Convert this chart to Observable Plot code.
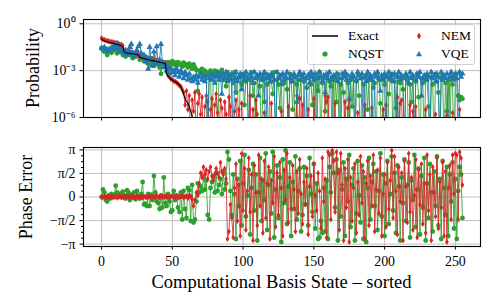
<!DOCTYPE html>
<html><head><meta charset="utf-8">
<script src="https://cdn.jsdelivr.net/npm/d3@7"></script>
<script src="https://cdn.jsdelivr.net/npm/@observablehq/plot@0.6"></script>
<style>
body{margin:0;background:#fff;}
#chart{position:relative;width:499px;height:308px;font-family:"Liberation Serif",serif;}
#chart svg.plot{position:absolute;left:0;}
#legend{position:absolute;left:307px;top:24px;width:166px;height:39px;border:1px solid #cfcfcf;border-radius:3px;background:rgba(255,255,255,0.8);font-size:13.5px;}
#legend svg{position:absolute;}
#legend span{position:absolute;line-height:16px;color:#000;}
.axlabel{position:absolute;white-space:nowrap;font-size:18px;line-height:1;color:#000;}
#warn{position:absolute;left:0;top:0;color:red;font-size:10px;}
</style></head><body><div id="chart"></div>
<script>
// ---------- data ----------
const seriesNames = ["Exact", "NQST", "NEM", "VQE"];
const xTicks = [0, 50, 100, 150, 200, 250];
const probTicks = [1, 1e-3, 1e-6];
const probTickLabels = ["10\u2070", "10\u207B\u00B3", "10\u207B\u2076"];
const phaseTicks = [Math.PI, Math.PI / 2, 0, -Math.PI / 2, -Math.PI];
const phaseTickLabels = ["\u03C0", "\u03C0/2", "0", "\u2212\u03C0/2", "\u2212\u03C0"];
const axisLabels = {top: "Probability", bottom: "Phase Error", x: "Computational Basis State \u2013 sorted"};

// probabilities (values below 1e-6 fall under the panel)
const exactProb = [0.105,0.09,0.08,0.076,0.071,0.066,0.063,0.06,0.056,0.054,
0.05,0.048,0.045,0.042,0.038,0.035,0.016,0.014,0.0135,0.013,
0.0126,0.0123,0.0117,0.0115,0.0112,0.0107,0.01,0.0071,0.0066,0.0063,
0.006,0.0056,0.0052,0.005,0.0048,0.0046,0.0044,0.0042,0.004,0.0038,
0.0036,0.0035,0.0033,0.0032,0.003,0.0028,6.3e-4,4.5e-4,3.5e-4,2.8e-4,
2.5e-4,2.2e-4,2e-4,1.8e-4,1.5e-4,1.26e-4,9e-5,5.6e-5,3.2e-5,1.6e-5,
1.1e-5,8e-6,5e-6,2.5e-6,1.3e-6,5e-7];

const nqstProb = [0.028,0.02,0.016,0.025,0.01,0.018,0.025,0.014,0.032,0.02,
0.022,0.013,0.028,0.016,0.02,0.01,0.014,0.008,0.013,0.018,
0.01,0.014,0.0063,0.011,0.008,0.016,0.009,0.005,0.01,0.0063,
0.004,0.008,0.0032,0.005,0.0025,0.0063,0.0035,0.002,0.0045,0.0032,
0.0025,0.0016,6.3e-4,0.0028,0.002,0.0032,0.0025,0.0035,0.002,0.0032,
0.004,0.0025,0.0032,0.002,0.0035,0.0025,0.0028,0.0018,0.0032,0.0022,
0.0025,0.0016,0.0028,0.002,0.0013,0.0025,0.0016,0.0011,5e-5,0.001,
8e-4,0.0013,6.3e-4,0.001,5e-4,1e-8,8e-4,0.001,1e-8,6.3e-4,
0.001,5e-4,1e-8,8e-4,4e-4,0.0011,2.5e-4,6.3e-4,1e-4,8e-4,
3.2e-4,1e-8,5e-4,1.6e-4,8e-4,4e-5,2.5e-4,1e-8,4e-4,1.3e-4,
6.3e-4,6.3e-6,2e-4,4e-4,1e-8,2.5e-4,8e-4,2.5e-5,1.6e-4,1e-8,
3.2e-4,5e-4,1e-4,1e-8,2.5e-4,1e-5,6.3e-4,1.3e-4,1e-8,4e-4,
2e-4,3.2e-5,8e-4,1e-8,2.5e-4,1.3e-4,4e-6,5e-4,1e-8,1.6e-4,
3.2e-4,6.3e-5,1e-8,6.3e-4,2e-4,3.2e-6,4e-4,1e-8,1.3e-4,2.5e-4,
1.6e-5,5e-4,1e-8,2e-4,3.2e-4,8e-5,1e-8,6.3e-4,1.3e-4,6.3e-6,
2.5e-4,1e-8,4e-4,5e-5,8e-4,1e-8,1.6e-4,3.2e-4,2.5e-6,5e-4,
1e-8,2e-4,1e-4,4e-4,1e-8,2.5e-4,1e-5,6.3e-4,1e-8,1.3e-4,
3.2e-4,4e-5,1e-8,5e-4,1.6e-4,1e-8,2.5e-4,5e-6,4e-4,1e-8,
2e-4,6.3e-4,2.5e-5,1e-8,3.2e-4,1.3e-4,1e-8,5e-4,3.2e-6,2.5e-4,
1e-8,4e-4,8e-5,1.6e-4,1e-8,6.3e-4,2.5e-4,8e-6,1e-8,3.2e-4,
1.3e-4,5e-4,1e-8,3.2e-5,2.5e-4,6.3e-4,1e-8,2e-4,4e-6,4e-4,
1e-8,1.6e-4,3.2e-4,6.3e-5,1e-8,5e-4,2.5e-4,1e-8,1.3e-4,1e-5,
4e-4,1e-8,2e-4,6.3e-4,2e-5,1e-8,3.2e-4,1.6e-4,1e-8,5e-4,
2.5e-4,5e-6,1e-8,4e-4,1.3e-4,1e-8,6.3e-4,2e-4,4e-5,1e-8,
3.2e-4,5e-4,1e-8,1.6e-4,2.5e-6,2.5e-4,1e-8,4e-4,1.3e-4,1e-8,
3.2e-4,6.3e-4,2.5e-5,1.3e-5,2e-5,1.6e-5];

const nemProb = [0.12,0.1,0.095,0.085,0.082,0.075,0.072,0.068,0.066,0.06,
0.058,0.054,0.052,0.048,0.045,0.04,0.02,0.018,0.016,0.0155,
0.015,0.014,0.0135,0.013,0.0128,0.012,0.0115,0.0085,0.008,0.0075,
0.007,0.0065,0.006,0.0058,0.0055,0.0053,0.005,0.0048,0.0046,0.0044,
0.0042,0.004,0.0038,0.0036,0.0034,0.0031,8e-4,5e-4,3.8e-4,3e-4,
2.6e-4,2.2e-4,2e-4,1.7e-4,1.4e-4,1.1e-4,1e-4,6.3e-5,4e-5,6.3e-6,
5e-5,3.2e-6,2.5e-5,1e-8,1.3e-5,2.5e-6,4e-5,1e-8,8e-6,3.2e-5,
1.6e-6,2e-5,1e-8,5e-6,2.5e-5,1e-5,1e-8,3.2e-6,1.6e-5,1e-8,
6.3e-6,3.2e-5,2e-6,1e-8,1.3e-5,4e-6,1e-8,1e-5,1.6e-6,1e-8,
2e-5,5e-6,1e-8,1e-8,2.5e-6,1.3e-5,1e-8,3.2e-6,1e-8,8e-6,
1e-8,1e-8,1e-8,1e-8,1e-8,2.5e-5,1e-8,3.2e-6,1e-8,1.3e-5,
1.6e-6,1e-8,1e-8,1e-8,1e-8,2e-6,1e-8,1e-8,1e-8,1e-8,
8e-6,1e-8,1e-8,1e-8,1e-8,1e-8,1e-8,2.5e-6,1e-8,1e-8,
1e-8,1e-8,5e-6,1e-8,1e-8,1e-8,1e-8,1e-8,2.5e-5,1e-8,
1.6e-5,1e-8,6.3e-6,1e-8,1e-8,1e-8,3.2e-6,1e-8,1e-8,1e-8,
1.6e-5,1e-8,1e-8,1e-8,1e-8,1e-8,1e-8,1e-8,2.5e-5,1e-5,
2e-5,1e-8,1e-8,1e-8,1e-8,8e-6,1e-8,1e-8,1e-8,1e-8,
1e-8,1e-8,1e-5,1e-8,4e-6,1.3e-5,1e-8,1e-8,1e-8,1e-8,
1e-8,2e-6,1e-8,1e-8,1e-8,1e-8,6.3e-6,1e-8,1e-8,1e-8,
1e-8,4e-6,1e-8,1e-8,1e-8,1e-8,1e-8,1e-8,1e-8,3.2e-6,
1e-8,6.3e-6,1e-8,1e-8,1e-8,1e-8,1e-8,1e-8,1e-8,2e-5,
1e-8,8e-6,1.3e-5,1e-8,1e-8,1e-8,1e-8,1e-8,6.3e-6,1e-8,
2.5e-6,1e-8,5e-6,1e-8,1e-8,1e-8,1e-8,1e-8,1e-8,3.2e-6,
1e-8,1e-8,1e-8,1e-8,1e-8,1e-8,1.6e-6,1e-8,1e-8,1e-8,
1e-8,1e-8,1e-8,1e-8,1.3e-6,1e-8,1e-8,1e-8,2e-6,1e-8,
1e-8,1e-8,1e-8,3.2e-6,1e-8,1e-8];

const vqeProb = [0.028,0.025,0.032,0.02,0.022,0.016,0.025,0.02,0.032,0.025,
0.04,0.056,0.028,0.016,0.025,0.018,0.013,0.02,0.01,0.016,
0.032,0.05,0.013,0.008,0.014,0.02,0.035,0.05,0.013,0.0063,
0.01,0.004,0.0063,0.0013,0.032,0.005,0.002,0.016,0.0032,0.035,
0.0025,0.005,0.05,0.0032,0.0016,0.0025,0.001,0.0016,6.3e-4,0.0013,
8e-4,0.001,5e-4,0.0013,8e-4,4e-4,0.001,6.3e-4,3.2e-4,8e-4,
5e-4,2.5e-4,6.3e-4,3.2e-4,2e-4,4e-4,2.5e-4,5e-4,1.6e-4,4e-4,
6.3e-4,2.5e-4,4e-4,2e-4,5e-4,1e-8,3.2e-4,6.3e-4,2.5e-4,5e-4,
1.6e-4,4e-4,8e-4,2.5e-4,5e-4,3.2e-5,6.3e-4,3.2e-4,8e-4,2e-4,
5e-4,2.5e-4,6.3e-4,1e-8,3.2e-4,8e-4,2e-4,4e-4,6.3e-4,6.3e-5,
5e-4,2.5e-4,8e-4,3.2e-4,1e-8,6.3e-4,4e-4,1.6e-4,8e-4,3.2e-4,
5e-4,2.5e-5,6.3e-4,2.5e-4,4e-4,8e-4,1e-8,3.2e-4,5e-4,2e-4,
6.3e-4,4e-4,2.5e-4,1e-8,8e-4,3.2e-4,5e-4,1.3e-4,6.3e-4,2.5e-4,
4e-4,8e-4,1e-8,3.2e-4,5e-4,2e-4,6.3e-4,4e-4,1e-5,5e-4,
8e-4,2.5e-4,4e-4,6.3e-4,1e-8,3.2e-4,5e-4,1.6e-4,8e-4,4e-4,
2.5e-4,6.3e-4,1e-8,3.2e-4,8e-4,4e-4,2e-4,5e-4,4e-5,6.3e-4,
3.2e-4,8e-4,2.5e-4,1e-8,5e-4,4e-4,6.3e-4,2e-4,3.2e-4,1e-8,
6.3e-4,4e-4,8e-4,2.5e-4,5e-4,1.6e-5,3.2e-4,6.3e-4,4e-4,1e-8,
2.5e-4,8e-4,5e-4,3.2e-4,6.3e-4,1e-8,4e-4,2e-4,8e-4,3.2e-4,
5e-4,2.5e-4,1e-8,6.3e-4,4e-4,8e-4,3.2e-4,5e-5,5e-4,2.5e-4,
6.3e-4,1e-8,4e-4,8e-4,3.2e-4,5e-4,2e-4,6.3e-4,1e-8,4e-4,
8e-4,2.5e-4,5e-4,3.2e-4,1e-8,6.3e-4,4e-4,1.6e-4,8e-4,3.2e-4,
5e-4,1e-8,2.5e-4,6.3e-4,4e-4,8e-4,2.5e-5,3.2e-4,5e-4,2.5e-4,
6.3e-4,4e-4,1e-8,8e-4,3.2e-4,5e-4,2e-4,6.3e-4,4e-4,1e-8,
8e-4,2.5e-4,5e-4,3.2e-4,6.3e-4,1e-8,4e-4,8e-4,2.5e-4,5e-4,
6.3e-4,3.2e-4,1e-8,8e-4,4e-4,6.3e-4];

// phase errors (radians)
const nqstPhase = [0.0,0.5,0.3,-0.2,-0.3,0.1,-0.1,0.2,0.05,0.15,
0.75,0.3,0.1,0.0,0.25,0.35,0.1,-0.1,0.45,0.3,
-0.2,0.15,0.05,0.3,-0.15,0.4,0.05,-0.1,0.2,1.0,
-0.5,-0.45,-0.6,0.2,-0.6,0.15,-0.2,1.4,0.3,-0.3,
-0.4,-0.8,0.1,-0.7,1.3,-0.4,-0.6,0.2,-0.3,-1.0,
-0.9,0.4,-0.2,0.1,-0.7,-1.0,0.3,-1.5,0.4,-0.8,
-1.4,0.6,0.45,-1.6,0.8,-1.7,-1.5,-0.3,0.9,0.3,
0.7,0.4,1.3,0.5,1.1,-1.2,-1.5,0.6,1.0,1.3,
0.3,1.6,0.4,0.8,1.2,0.2,1.7,0.5,0.9,3.0,
2.5,0.4,-1.2,1.5,0.2,
-2.8,1.2,-0.6,2.4,-1.9,0.9,2.8,-1.3,0.1,1.8,
-2.5,0.6,2.2,-0.9,1.5,-2.9,0.3,2.6,-1.6,1.1,
-0.2,2.9,-2.2,0.8,1.7,-1.1,3.0,-2.7,0.5,2.1,
-1.4,1.3,-3.0,2.5,-0.4,3.1,-1.8,0.7,2.3,-2.6,
1.0,-0.8,2.7,-1.5,0.4,1.9,-2.3,-1.2,2.0,-0.5,
1.4,-1.9,2.6,0.2,-1.0,2.2,-2.1,0.9,-2.8,-2.7,
-1.6,-2.4,0.6,-2.3,1.1,-2.8,2.0,0.3,2.9,1.6,
-0.7,2.5,-2.9,1.8,-1.3,0.5,2.3,-2.6,1.2,-0.3,
2.8,-2.0,0.8,1.9,-2.9,-1.1,2.4,0.1,-1.7,2.1,
-2.8,1.3,-3.0,0.6,2.6,-1.5,1.0,2.2,-0.6,1.7,
-2.2,0.4,2.9,-1.3,1.5,-2.6,0.9,2.4,-1.8,0.2,
2.7,-0.9,1.6,-2.4,2.1,0.7,-2.9,1.3,-0.4,2.5,
-1.6,0.8,2.3,-2.7,1.1,-0.2,2.8,-2.0,0.5,1.9,
-2.5,1.4,-0.7,2.6,-2.9,0.9,-1.4,2.2,0.3,-2.3,
1.7,-0.6,2.7,-1.9,1.2,-2.8,2.4,0.6,-1.2,2.0,
-2.6,1.5,-0.3,2.3,-2.1,1.2,-2.8,0.4,2.0,1.5,
-1.4];

const nemPhase = [0.02,-0.03,0.05,0.01,-0.04,0.03,-0.01,0.04,-0.02,0.0,
0.03,-0.05,0.02,0.06,-0.02,0.01,-0.04,0.03,0.05,-0.01,
0.0,0.04,-0.03,0.02,-0.05,0.06,0.01,-0.02,0.03,-0.04,
0.05,0.0,-0.03,0.04,0.02,-0.06,0.03,0.01,-0.02,0.07,
0.0,-0.04,0.05,0.02,-0.03,0.06,-0.01,0.04,-0.05,0.03,
0.08,-0.02,0.01,0.05,-0.06,0.03,0.0,0.07,-0.04,0.02,
0.06,-0.08,0.1,0.05,-0.15,-0.6,-0.2,0.3,0.1,0.9,
1.6,1.3,2.0,1.5,1.8,1.2,1.7,2.0,1.4,1.1,
1.5,1.9,1.6,1.3,2.3,1.7,1.5,1.9,1.2,-2.8,
-2.3,-0.5,-1.4,-2.7,0.6,
2.2,-1.6,0.8,-2.6,2.9,-0.9,1.9,-2.2,0.4,2.6,
-1.0,1.5,-2.9,2.1,0.3,-1.9,2.8,-0.6,1.2,-2.4,
2.4,-1.4,0.9,2.0,-2.8,1.1,-0.4,2.7,-2.0,1.6,
-1.2,2.3,0.6,-2.6,1.8,-0.2,2.9,-1.7,1.3,-0.8,
2.1,0.5,-2.3,1.7,-1.1,2.5,0.2,-1.8,1.0,-0.5,
1.9,-2.5,0.7,1.4,-1.3,2.2,0.1,-0.9,1.6,0.4,
-2.1,2.6,-0.3,1.2,-2.7,3.0,2.8,-1.5,3.1,2.4,
-1.0,3.0,1.6,-2.2,2.9,0.8,-2.9,1.9,-0.7,2.5,
-3.0,1.3,-1.6,0.6,2.2,-2.4,1.0,-1.2,2.7,-0.4,
1.7,-2.8,0.9,2.4,-1.9,1.4,-0.6,2.8,-2.3,0.5,
1.8,-1.1,2.6,-2.6,0.2,1.5,-2.0,2.3,-0.8,1.1,
3.1,-1.4,2.7,0.4,-2.5,2.0,-0.3,1.6,-2.9,2.4,
0.7,-1.7,2.9,-1.0,1.3,-2.2,0.1,2.5,-2.7,1.8,
-0.5,2.2,-1.8,0.9,-2.4,2.8,-0.9,1.5,-2.9,2.0,
0.3,-1.3,2.6,-2.1,1.0,-0.7,2.3,-2.6,1.7,-3.0,
0.6,2.1,-1.5,2.8,0.2,2.9,2.8,-1.5,3.0,2.6,
0.8];

// ---------- styling ----------
const colors = {Exact: "#000000", NQST: "#2ca02c", NEM: "#d62728", VQE: "#1f77b4"};
const thinDiamond = {draw(ctx, size) {
  const r = Math.sqrt(size / Math.PI) * 1.3, w = r * 0.6;
  ctx.moveTo(0, -r); ctx.lineTo(w, 0); ctx.lineTo(0, r); ctx.lineTo(-w, 0); ctx.closePath();
}};
const rows = (arr) => arr.map((v, i) => ({i, v}));
const FONT = "'Liberation Serif', serif";
const gridStyle = {stroke: "#b0b0b0", strokeOpacity: 1, strokeWidth: 0.8};
const xDomain = [-12.75, 267.75];
const minorPhase = [-7,-6,-5,-3,-2,-1,1,2,3,5,6,7].map(k => k * Math.PI / 8);

function series(data, color, symbol, r) {
  return [
    Plot.line(data, {x: "i", y: "v", stroke: color, strokeWidth: 1, strokeOpacity: 0.85, clip: true}),
    Plot.dot(data, {x: "i", y: "v", fill: color, stroke: null, r, symbol, clip: true})
  ];
}

const chart = document.getElementById("chart");
const check = [exactProb.length, nqstProb.length, nemProb.length, vqeProb.length, nqstPhase.length, nemPhase.length];

const topPlot = Plot.plot({
  width: 499, height: 130,
  marginTop: 19, marginBottom: 13, marginLeft: 83, marginRight: 19,
  style: {fontFamily: FONT, fontSize: "13.9px", background: "transparent", color: "#000", overflow: "visible"},
  x: {domain: xDomain},
  y: {type: "log", domain: [1e-6, 1.88]},
  marks: [
    Plot.gridX(xTicks, gridStyle),
    Plot.gridY(probTicks, gridStyle),
    ...series(rows(nqstProb), colors.NQST, "circle", 2.4),
    ...series(rows(nemProb), colors.NEM, thinDiamond, 2.4),
    ...series(rows(vqeProb), colors.VQE, "triangle", 2.3),
    Plot.line(rows(exactProb), {x: "i", y: "v", stroke: colors.Exact, strokeWidth: 1.1, clip: true}),
    Plot.axisX(xTicks, {tickSize: 3.5, tickFormat: () => "", label: null}),
    Plot.axisY(probTicks, {tickSize: 3.5, tickPadding: 4.5, tickFormat: d => probTickLabels[probTicks.indexOf(d)], label: null, fontSize: 13.9}),
    Plot.frame({stroke: "#000", strokeWidth: 1.1})
  ]
});
topPlot.classList.add("plot");
topPlot.style.top = "0px";
chart.appendChild(topPlot);

const bottomPlot = Plot.plot({
  width: 499, height: 178,
  marginTop: 17, marginBottom: 62, marginLeft: 83, marginRight: 19,
  style: {fontFamily: FONT, fontSize: "13.9px", background: "transparent", color: "#000", overflow: "visible"},
  x: {domain: xDomain},
  y: {domain: [-3.3, 3.3]},
  marks: [
    Plot.gridX(xTicks, gridStyle),
    Plot.gridY(phaseTicks, gridStyle),
    ...series(rows(nqstPhase), colors.NQST, "circle", 2.4),
    ...series(rows(nemPhase), colors.NEM, thinDiamond, 2.4),
    Plot.axisX(xTicks, {tickSize: 3.5, tickPadding: 6, label: null, fontSize: 13.9}),
    Plot.axisY(phaseTicks, {tickSize: 3.5, tickPadding: 4.5, tickFormat: d => phaseTickLabels[phaseTicks.indexOf(d)], label: null, fontSize: 13.9}),
    Plot.axisY(minorPhase, {tickSize: 2, tickFormat: () => "", label: null}),
    Plot.frame({stroke: "#000", strokeWidth: 1.1})
  ]
});
bottomPlot.classList.add("plot");
bottomPlot.style.top = "130px";
chart.appendChild(bottomPlot);

// ---------- axis titles ----------
function addLabel(text, cx, cy, rotate, size) {
  const d = document.createElement("div");
  d.className = "axlabel";
  d.textContent = text;
  d.style.left = cx + "px";
  d.style.top = cy + "px";
  d.style.fontSize = size + "px";
  d.style.transform = `translate(-50%, -50%)${rotate ? " rotate(-90deg)" : ""}`;
  chart.appendChild(d);
}
addLabel(axisLabels.top, 33, 68, true, 18);
addLabel(axisLabels.bottom, 25.5, 196.5, true, 18);
addLabel(axisLabels.x, 281.5, 282, false, 18.5);

// ---------- legend ----------
const legend = document.createElement("div");
legend.id = "legend";
const swatches = {
  Exact: `<line x1="2" y1="8" x2="28" y2="8" stroke="${colors.Exact}" stroke-width="1.5"/>`,
  NQST: `<circle cx="15" cy="8" r="2.6" fill="${colors.NQST}"/>`,
  NEM: `<path d="M15,4.6L17,8L15,11.4L13,8Z" fill="${colors.NEM}"/>`,
  VQE: `<path d="M15,5L18,10.3L12,10.3Z" fill="${colors.VQE}"/>`
};
const legendPos = {Exact: [0, 0], NQST: [0, 1], NEM: [1, 0], VQE: [1, 1]};
seriesNames.forEach(name => {
  const [c, r] = legendPos[name];
  const cy = r === 0 ? 11 : 29;
  const sx = c === 0 ? 2 : 96;
  const tx = c === 0 ? 40 : 133;
  legend.insertAdjacentHTML("beforeend",
    `<svg width="30" height="16" style="left:${sx}px;top:${cy - 8}px">${swatches[name]}</svg><span style="left:${tx}px;top:${cy - 8}px">${name}</span>`);
});
chart.appendChild(legend);

if (check.join() !== "66,256,256,256,256,256") {
  const w = document.createElement("div"); w.id = "warn"; w.textContent = check.join(); chart.appendChild(w);
}
</script></body></html>
